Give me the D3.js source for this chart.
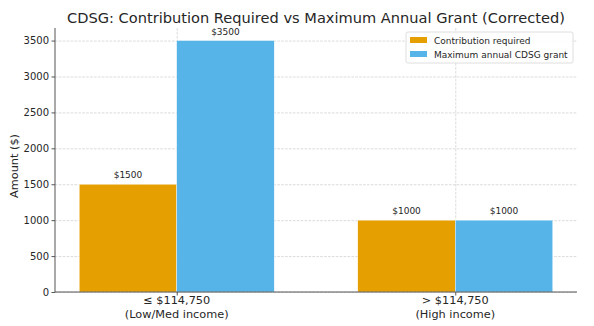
<!DOCTYPE html>
<html>
<head>
<meta charset="utf-8">
<script src="https://cdn.jsdelivr.net/npm/d3@7"></script>
<style>
  body { margin: 0; background: #fff; }
  text { font-family: "DejaVu Sans", sans-serif; fill: #262626; }
</style>
</head>
<body>
<svg id="chart" width="594" height="326"></svg>
<script>
// data
const categories = ["≤ $114,750\n(Low/Med income)", "> $114,750\n(High income)"];
const seriesNames = ["Contribution required", "Maximum annual CDSG grant"];
const contribution = [1500, 1000];
const grant = [3500, 1000];
const yTicks = [0, 500, 1000, 1500, 2000, 2500, 3000, 3500];

const colors = ["#E69F00", "#56B4E9"];
const margin = { left: 55, right: 17, top: 28, bottom: 34 };
const W = 594, H = 326;
const barW = 0.35;

const svg = d3.select("#chart");

const x = d3.scaleLinear().domain([-0.437, 1.437]).range([margin.left, W - margin.right]);
const y = d3.scaleLinear().domain([0, 3675]).range([H - margin.bottom, margin.top]);

// grid
svg.append("g")
  .attr("transform", `translate(${margin.left},0)`)
  .call(d3.axisLeft(y).tickValues(yTicks).tickSize(-(W - margin.left - margin.right)).tickFormat(""))
  .call(g => g.select(".domain").remove())
  .selectAll("line").attr("stroke", "#cccccc").attr("stroke-dasharray", "2.6,1.3").attr("stroke-width", 0.7);

svg.append("g")
  .attr("transform", `translate(0,${H - margin.bottom})`)
  .call(d3.axisBottom(x).tickValues([0, 1]).tickSize(-(H - margin.top - margin.bottom)).tickFormat(""))
  .call(g => g.select(".domain").remove())
  .selectAll("line").attr("stroke", "#cccccc").attr("stroke-dasharray", "2.6,1.3").attr("stroke-width", 0.7);

// bars
const series = [contribution, grant];
series.forEach((vals, s) => {
  const off = s === 0 ? -barW / 2 : barW / 2;
  svg.append("g").selectAll("rect")
    .data(vals)
    .join("rect")
    .attr("x", (d, i) => x(i + off - barW / 2))
    .attr("width", x(barW) - x(0))
    .attr("y", d => y(d))
    .attr("height", d => y(0) - y(d))
    .attr("fill", colors[s])
    .attr("stroke", "#fff")
    .attr("stroke-width", 0.4);

  svg.append("g").selectAll("text")
    .data(vals)
    .join("text")
    .attr("x", (d, i) => x(i + off))
    .attr("y", d => y(d) - 6)
    .attr("text-anchor", "middle")
    .style("font-size", "9px")
    .text(d => "$" + d);
});

// axes
const yAxis = svg.append("g")
  .attr("transform", `translate(${margin.left},0)`)
  .call(d3.axisLeft(y).tickValues(yTicks).tickSize(3.5).tickPadding(2.5).tickFormat(d3.format("d")));
yAxis.selectAll("text").style("font-size", "10px");
yAxis.select(".domain").attr("stroke", "#555").attr("stroke-width", 1).attr("d", `M0,${y(0)}V${margin.top}`);
yAxis.selectAll(".tick line").attr("stroke", "#555");

const xAxis = svg.append("g")
  .attr("transform", `translate(0,${H - margin.bottom})`)
  .call(d3.axisBottom(x).tickValues([0, 1]).tickSize(3.5).tickFormat(""));
xAxis.select(".domain").attr("stroke", "#555").attr("stroke-width", 1).attr("d", `M${margin.left},0H${W - margin.right}`);
xAxis.selectAll(".tick line").attr("stroke", "#555");

categories.forEach((c, i) => {
  const lines = c.split("\n");
  const t = svg.append("text")
    .attr("x", x(i))
    .attr("y", H - margin.bottom + 12)
    .attr("text-anchor", "middle")
    .style("font-size", "11.3px");
  lines.forEach((l, k) => {
    t.append("tspan").attr("x", x(i)).attr("dy", k === 0 ? 0 : 13.5).text(l);
  });
});

// titles
svg.append("text")
  .attr("x", (margin.left + W - margin.right) / 2)
  .attr("y", 23)
  .attr("text-anchor", "middle")
  .style("font-size", "14.6px")
  .text("CDSG: Contribution Required vs Maximum Annual Grant (Corrected)");

svg.append("text")
  .attr("transform", `translate(18,${(margin.top + H - margin.bottom) / 2 + 6}) rotate(-90)`)
  .attr("text-anchor", "middle")
  .style("font-size", "11.3px")
  .text("Amount ($)");

// legend
const lg = svg.append("g").attr("transform", "translate(406,32)");
lg.append("rect")
  .attr("width", 167).attr("height", 31).attr("rx", 2)
  .attr("fill", "#fff").attr("fill-opacity", 0.85)
  .attr("stroke", "#d6d6d6").attr("stroke-width", 0.8);
seriesNames.forEach((n, i) => {
  lg.append("rect")
    .attr("x", 4).attr("y", 5 + i * 14)
    .attr("width", 17).attr("height", 6)
    .attr("fill", colors[i]);
  lg.append("text")
    .attr("x", 28).attr("y", 11.5 + i * 14)
    .style("font-size", "9px")
    .text(n);
});
</script>
</body>
</html>
